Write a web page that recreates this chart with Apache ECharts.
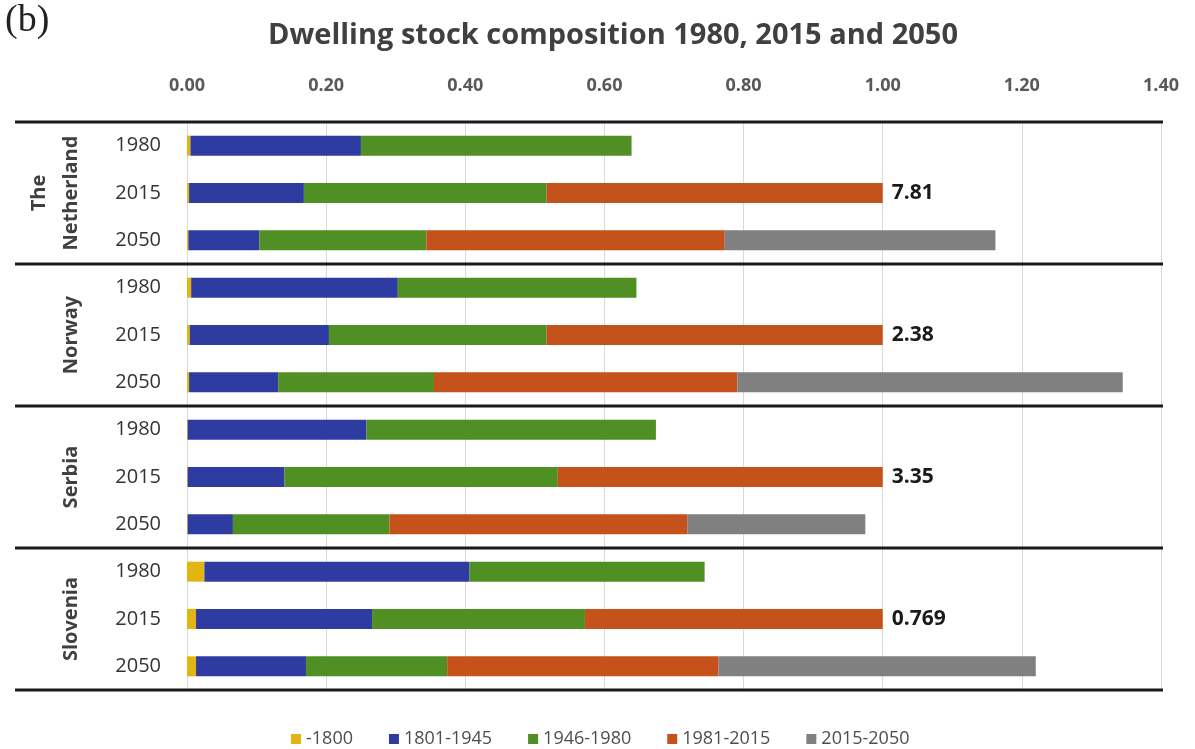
<!DOCTYPE html>
<html lang="en">

<head>
    <meta charset="UTF-8">
    <title>dwellingStock</title>
    <style type="text/css">
        body {
            margin: 0;
            background: #fff;
        }

        #chart {
            width: 1195px;
            height: 749px;
        }
    </style>
</head>

<body>
    <div id="chart"></div>
    <script src="https://cdn.jsdelivr.net/npm/echarts@6/dist/echarts.min.js"></script>
    <script type="text/javascript">
        // data, 2015 = 1.00 for each country
        var countries = ['The\nNetherland', 'Norway', 'Serbia', 'Slovenia'];
        var years = ['1980', '2015', '2050'];
        var totals2015 = ['7.81', '2.38', '3.35', '0.769'];
        var periods = ['-1800', '1801-1945', '1946-1980', '1981-2015', '2015-2050'];

        // rows: NL 1980/2015/2050, NO ..., RS ..., SI ...
        var pre1800 = [0.005, 0.003, 0.002, 0.006, 0.004, 0.003, 0.001, 0.001, 0.001, 0.025, 0.013, 0.013];
        var p1801_1945 = [0.245, 0.165, 0.102, 0.297, 0.200, 0.128, 0.257, 0.139, 0.065, 0.381, 0.253, 0.158];
        var p1946_1980 = [0.389, 0.349, 0.240, 0.343, 0.313, 0.224, 0.416, 0.393, 0.225, 0.338, 0.306, 0.203];
        var p1981_2015 = [null, 0.483, 0.429, null, 0.483, 0.436, null, 0.467, 0.428, null, 0.428, 0.390];
        var p2015_2050 = [null, null, 0.389, null, null, 0.554, null, null, 0.256, null, null, 0.456];

        var colors = ['#E2B512', '#2E3BA0', '#4F8F24', '#C4521A', '#808080'];

        var rows = [];
        for (var c = 0; c < countries.length; c++) {
            for (var y = 0; y < years.length; y++) {
                rows.push(countries[c] + '|' + years[y]);
            }
        }

        // orange series gets the total label on the 2015 rows
        var orangeData = p1981_2015.map(function (v, i) {
            if (rows[i].split('|')[1] === '2015') {
                return {
                    value: v,
                    label: {
                        show: true,
                        position: 'right',
                        distance: 9,
                        formatter: totals2015[Math.floor(i / 3)],
                        fontSize: 21,
                        fontWeight: 'bold',
                        color: '#1a1a1a',
                        fontFamily: 'Open Sans'
                    }
                };
            }
            return v;
        });

        var seriesData = [pre1800, p1801_1945, p1946_1980, orangeData, p2015_2050];

        var myChart = echarts.init(document.getElementById('chart'));
        var gridLeft = 187, gridRight = 34, gridTop = 122, gridBottom = 59;

        var option = {
            animation: false,
            color: colors,
            textStyle: { fontFamily: 'Open Sans' },
            title: [
                {
                    text: 'Dwelling stock composition 1980, 2015 and 2050',
                    left: 608,
                    textAlign: 'center',
                    top: 16,
                    textStyle: { fontSize: 29, fontWeight: 'bold', color: '#404040', fontFamily: 'Open Sans' }
                },
                {
                    text: '(b)',
                    left: 0,
                    top: -3,
                    textStyle: { fontSize: 38, fontWeight: 'normal', color: '#222', fontFamily: 'Liberation Serif' }
                }
            ],
            legend: {
                top: 725,
                left: 286,
                itemWidth: 10,
                itemHeight: 10,
                itemGap: 36,
                icon: 'rect',
                textStyle: { fontSize: 18, color: '#4d4d4d' },
                data: periods
            },
            grid: {
                left: gridLeft,
                right: gridRight,
                top: gridTop,
                bottom: gridBottom
            },
            xAxis: {
                type: 'value',
                position: 'top',
                min: 0,
                max: 1.4,
                interval: 0.2,
                axisLine: { show: false },
                axisTick: { show: false },
                axisLabel: {
                    margin: 27,
                    fontSize: 18,
                    fontWeight: 'bold',
                    color: '#595959',
                    formatter: function (v) { return v.toFixed(2); }
                },
                splitLine: { lineStyle: { color: '#d9d9d9', width: 1 } }
            },
            yAxis: {
                type: 'category',
                inverse: true,
                data: rows,
                axisTick: { show: false },
                axisLine: { lineStyle: { color: '#d9d9d9' } },
                axisLabel: {
                    margin: 26,
                    fontSize: 20,
                    color: '#333',
                    formatter: function (v) { return v.split('|')[1]; }
                }
            },
            series: periods.map(function (p, k) {
                return {
                    name: p,
                    type: 'bar',
                    stack: 'total',
                    barWidth: 20,
                    data: seriesData[k]
                };
            })
        };
        myChart.setOption(option);

        // group separators and country labels placed through the category axis
        var graphics = [];
        var lineLeft = 15, lineRight = 1163;
        var bounds = [gridTop];
        for (var g = 1; g < countries.length; g++) {
            var a = myChart.convertToPixel({ yAxisIndex: 0 }, rows[g * 3 - 1]);
            var b = myChart.convertToPixel({ yAxisIndex: 0 }, rows[g * 3]);
            bounds.push((a + b) / 2);
        }
        bounds.push(749 - gridBottom);
        bounds.forEach(function (yy) {
            graphics.push({
                type: 'line',
                shape: { x1: lineLeft, y1: yy, x2: lineRight, y2: yy },
                style: { stroke: '#1a1a1a', lineWidth: 3 },
                z: 10
            });
        });
        for (var g2 = 0; g2 < countries.length; g2++) {
            var yc = myChart.convertToPixel({ yAxisIndex: 0 }, rows[g2 * 3 + 1]);
            graphics.push({
                type: 'text',
                x: 87,
                y: yc,
                rotation: Math.PI / 2,
                style: {
                    text: countries[g2],
                    align: 'center',
                    verticalAlign: 'bottom',
                    fontSize: 20,
                    fontWeight: 'bold',
                    lineHeight: 32,
                    fill: '#404040',
                    fontFamily: 'Open Sans'
                }
            });
        }
        myChart.setOption({ graphic: graphics });
    </script>
</body>

</html>
